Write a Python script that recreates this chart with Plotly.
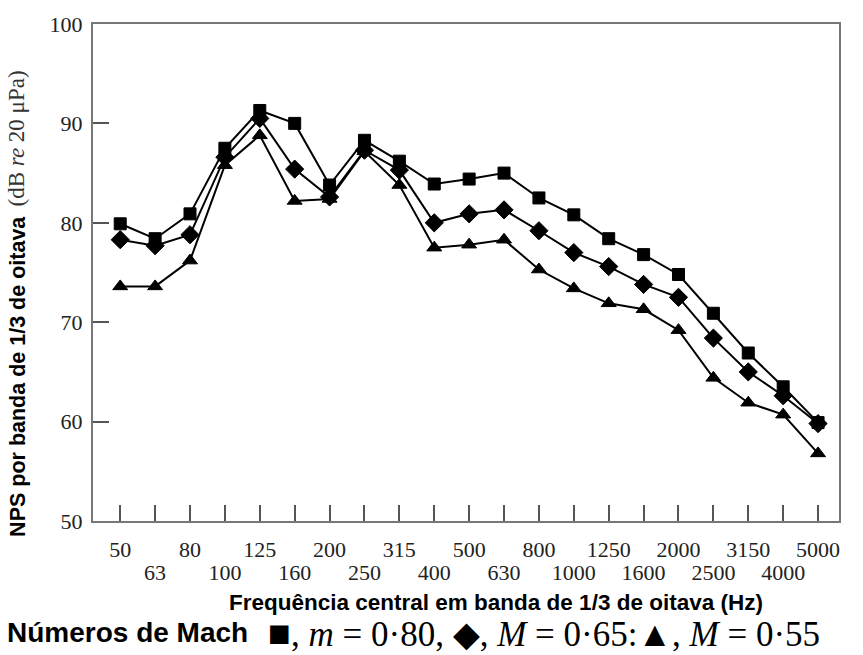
import plotly.graph_objects as go

# 1/3-octave band centre frequencies (Hz)
bands = ["50", "63", "80", "100", "125", "160", "200", "250", "315", "400",
         "500", "630", "800", "1000", "1250", "1600", "2000", "2500", "3150",
         "4000", "5000"]

# Sound pressure level per 1/3-octave band (dB re 20 uPa)
spl_m080 = [79.9, 78.4, 80.9, 87.5, 91.3, 90.0, 83.8, 88.3, 86.2, 83.9,
            84.4, 85.0, 82.5, 80.8, 78.4, 76.8, 74.8, 70.9, 66.9, 63.5, 59.9]
spl_m065 = [78.3, 77.7, 78.8, 86.6, 90.5, 85.4, 82.6, 87.3, 85.3, 80.0,
            80.9, 81.3, 79.2, 77.0, 75.6, 73.8, 72.5, 68.4, 65.0, 62.6, 59.8]
spl_m055 = [73.6, 73.6, 76.2, 85.8, 88.8, 82.2, 82.4, 87.2, 83.8, 77.5,
            77.8, 78.3, 75.3, 73.4, 71.9, 71.3, 69.2, 64.4, 61.9, 60.7, 56.8]

y_ticks = [50, 60, 70, 80, 90, 100]

idx = list(range(len(bands)))
# band labels staggered over two rows: even ones on the main axis,
# odd ones on an overlaid axis set further down
row1_text = [b if i % 2 == 0 else "" for i, b in enumerate(bands)]
row2_vals = [i for i in idx if i % 2 == 1]
row2_text = [bands[i] for i in row2_vals]

x_range = [-0.78, 20.6]

fig = go.Figure()

series = [
    (spl_m080, "square", 12, "m = 0.80"),
    (spl_m065, "diamond", 14, "M = 0.65"),
    (spl_m055, "triangle-up", 13, "M = 0.55"),
]
for vals, sym, size, name in series:
    fig.add_trace(go.Scatter(
        x=idx, y=vals, mode="lines+markers", name=name,
        line=dict(color="black", width=2),
        marker=dict(symbol=sym, size=size, color="black",
                    line=dict(color="black", width=1)),
        showlegend=False,
    ))

# invisible carrier so the second label row (xaxis2) gets drawn
fig.add_trace(go.Scatter(
    x=row2_vals, y=[spl_m080[i] for i in row2_vals], xaxis="x2", yaxis="y",
    mode="markers", marker=dict(opacity=0), hoverinfo="skip", showlegend=False,
))

serif = "Liberation Serif"
sans = "Liberation Sans"
tick_font = dict(family=serif, size=22, color="#222")

fig.update_layout(
    width=863, height=655,
    margin=dict(l=93, r=24, t=22, b=134),
    paper_bgcolor="white", plot_bgcolor="white",
    xaxis=dict(
        range=x_range, tickmode="array", tickvals=idx, ticktext=row1_text,
        tickangle=0, ticklabelstandoff=8,
        ticks="inside", ticklen=16, tickwidth=1.5, tickcolor="#555",
        showline=True, linecolor="#777", linewidth=2, mirror=True,
        showgrid=False, zeroline=False, tickfont=tick_font,
    ),
    xaxis2=dict(
        overlaying="x", anchor="y", side="bottom",
        range=x_range, tickmode="array", tickvals=row2_vals, ticktext=row2_text,
        tickangle=0, ticklabelstandoff=36, ticks="",
        showline=False, showgrid=False, zeroline=False, tickfont=tick_font,
    ),
    yaxis=dict(
        range=[50, 100], tickmode="array", tickvals=y_ticks,
        ticks="inside", ticklen=16, tickwidth=1.5, tickcolor="#555",
        showline=True, linecolor="#777", linewidth=2, mirror=True,
        showgrid=False, zeroline=False, ticklabelstandoff=4,
        tickfont=tick_font,
    ),
)

annotations = [
    dict(text="<b>Frequência central em banda de 1/3 de oitava (Hz)</b>",
         x=0.54, y=-0.164, xref="paper", yref="paper", showarrow=False,
         xanchor="center", yanchor="middle",
         font=dict(family=sans, size=22.5, color="black")),
    dict(text="<b>NPS por banda de 1/3 de oitava</b>",
         x=-0.1005, y=0.29, xref="paper", yref="paper", showarrow=False,
         textangle=-90, xanchor="center", yanchor="middle",
         font=dict(family=sans, size=21.5, color="black")),
    dict(text="(dB <i>re</i> 20 μPa)",
         x=-0.103, y=0.77, xref="paper", yref="paper", showarrow=False,
         textangle=-90, xanchor="center", yanchor="middle",
         font=dict(family=serif, size=23, color="#333")),
    dict(text="<b>Números de Mach</b>",
         x=-0.118, y=-0.2245, xref="paper", yref="paper", showarrow=False,
         xanchor="left", yanchor="middle",
         font=dict(family=sans, size=28, color="black")),
    dict(text=("<span style=\"font-size:38px\">■</span>, <i>m</i> = 0·80, ◆, "
               "<i>M</i> = 0·65:▲, <i>M</i> = 0·55"),
         x=0.232, y=-0.2245, xref="paper", yref="paper", showarrow=False,
         xanchor="left", yanchor="middle",
         font=dict(family=serif, size=35, color="black")),
]
fig.update_layout(annotations=annotations)

fig.write_html("out.html")
